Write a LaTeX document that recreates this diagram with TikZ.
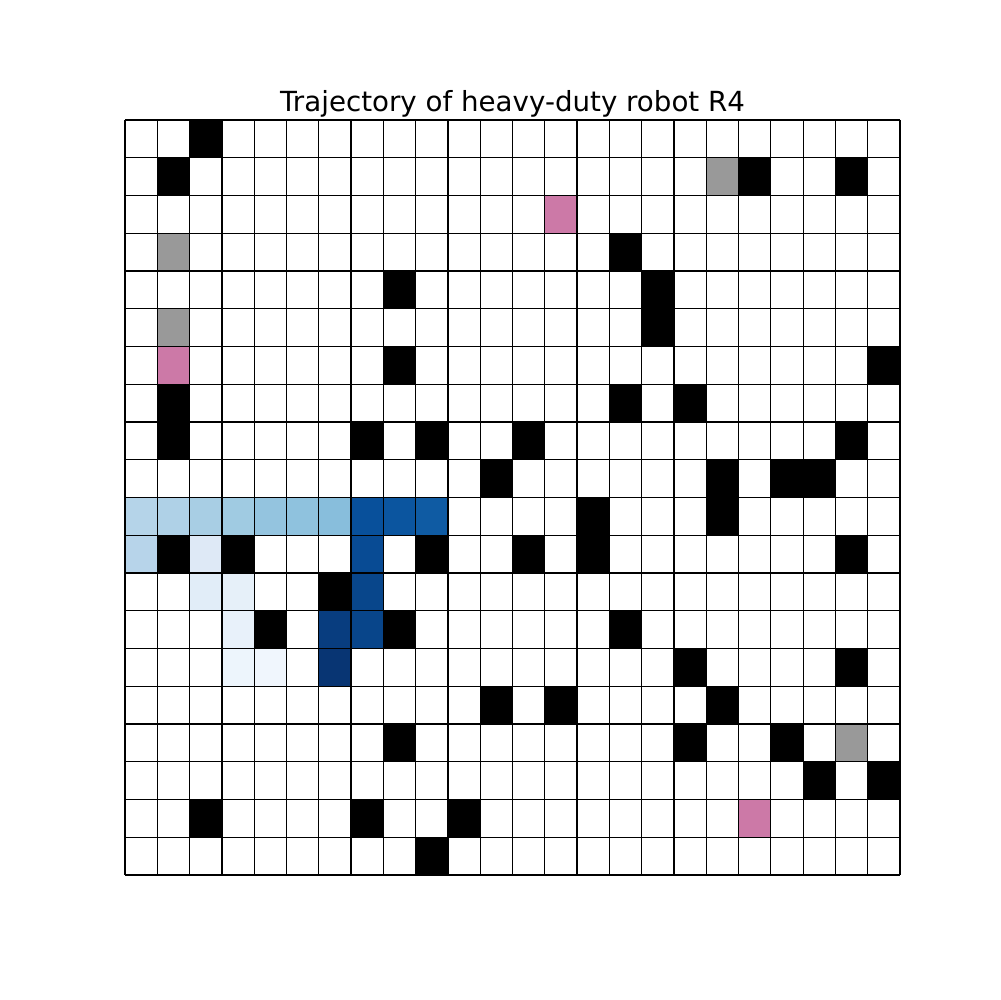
\documentclass[tikz,border=0pt]{standalone}
\usepackage{fontspec}
\setmainfont{DejaVu Sans}
\definecolor{pinkc}{HTML}{CC79A7}
\definecolor{grayc}{HTML}{999999}
\begin{document}
\begin{tikzpicture}[x=0.01in,y=-0.01in,
  gridline/.style={black,line width=0.9pt},
  titletext/.style={font=\fontsize{20}{24}\selectfont,anchor=base,inner sep=0pt}]
\useasboundingbox[fill=white] (0,0) rectangle (1000,1000);
\newcommand\cellfill[3]{\fill[#3] ({125+#1*32.2917},{120+#2*37.75}) rectangle ({125+(#1+1)*32.2917},{120+(#2+1)*37.75});}
% obstacles
\foreach \c/\r in {2/0,1/1,19/1,22/1,15/3,8/4,16/4,16/5,8/6,23/6,1/7,15/7,17/7,1/8,7/8,9/8,12/8,22/8,11/9,18/9,20/9,21/9,14/10,18/10,1/11,3/11,9/11,12/11,14/11,22/11,6/12,4/13,8/13,15/13,17/14,22/14,11/15,13/15,18/15,8/16,17/16,20/16,21/17,23/17,2/18,7/18,10/18,9/19}
  {\cellfill{\c}{\r}{black}}
\foreach \c/\r in {18/1,1/3,1/5,22/16}
  {\cellfill{\c}{\r}{grayc}}
\foreach \c/\r in {13/2,1/6,19/18}
  {\cellfill{\c}{\r}{pinkc}}
% trajectory
\foreach \c/\r/\h in {0/10/B5D4E9,1/10/AFD1E7,2/10/A8CEE4,3/10/A0CBE2,4/10/94C4DF,5/10/8FC2DE,6/10/88BEDC,7/10/08509B,8/10/0B559F,9/10/0F5BA3,0/11/B7D4EA,2/11/DEE9F6,7/11/084B94,2/12/E1EDF8,3/12/E6F0F9,7/12/08468B,3/13/E8F1FA,6/13/083D7F,7/13/08458A,3/14/EDF5FC,4/14/F0F6FD,6/14/083573}
  {\definecolor{tc}{HTML}{\h}\cellfill{\c}{\r}{tc}}
% grid
\foreach \i in {0,...,24}
  \draw[gridline] ({125+\i*32.2917},120) -- ({125+\i*32.2917},875);
\foreach \j in {0,...,20}
  \draw[gridline] (125,{120+\j*37.75}) -- (900,{120+\j*37.75});
\node[titletext] (title) at (512.5,112) {Trajectory of heavy-duty robot R4};
\end{tikzpicture}
\end{document}
